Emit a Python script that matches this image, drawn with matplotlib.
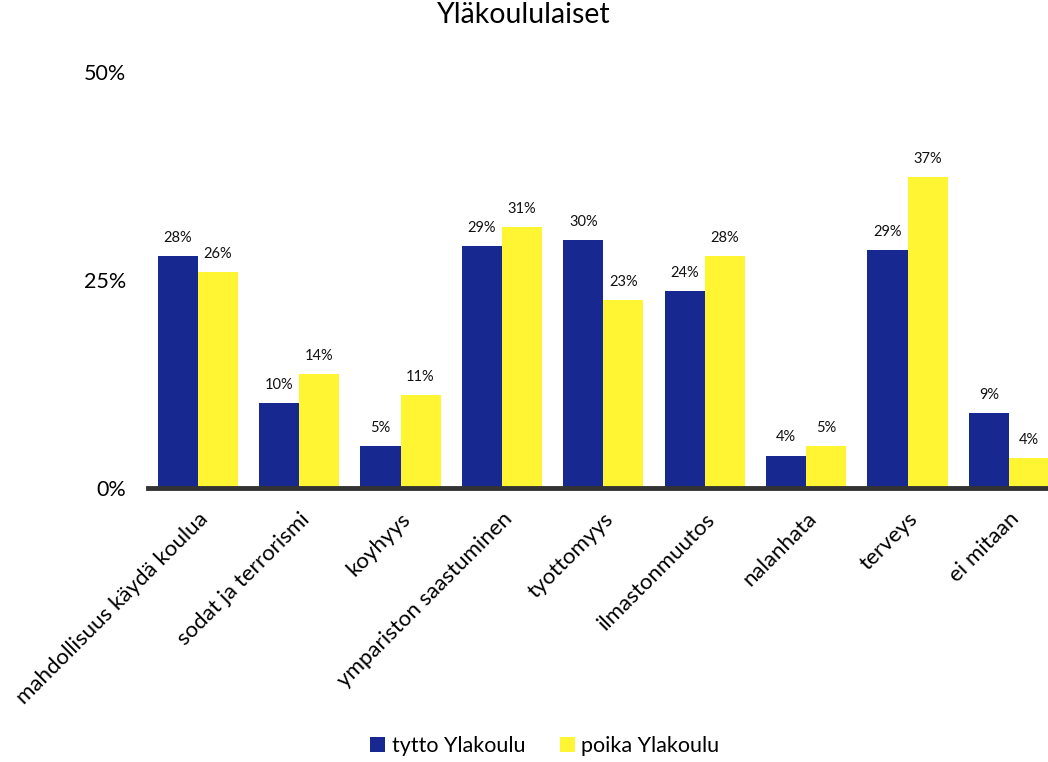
import numpy as np
import matplotlib
matplotlib.use("Agg")
import matplotlib.pyplot as plt

# =========================
# Data
# =========================
categories = [
    "mahdollisuus käydä koulua", "sodat ja terrorismi", "koyhyys",
    "ympariston saastuminen", "tyottomyys", "ilmastonmuutos",
    "nalanhata", "terveys", "ei mitaan",
]
tytto = [27.9, 10.2, 5.1, 29.1, 29.8, 23.7, 3.9, 28.6, 9.0]
poika = [26.0, 13.7, 11.2, 31.4, 22.6, 27.9, 5.1, 37.4, 3.6]
series_names = ["tytto Ylakoulu", "poika Ylakoulu"]
yticks = [0, 25, 50]

NAVY = "#182891"
YELLOW = "#FFF533"

plt.rcParams["font.family"] = ["Lato", "DejaVu Sans"]

fig = plt.figure(figsize=(10.48, 7.62), dpi=100)
ax = fig.add_axes([148 / 1048, 1 - 488 / 762, 1 - 148 / 1048, (488 - 72) / 762])

x = np.arange(len(categories))
w = 0.395
b1 = ax.bar(x - w / 2, tytto, w, color=NAVY, label=series_names[0])
b2 = ax.bar(x + w / 2, poika, w, color=YELLOW, label=series_names[1])

for bars in (b1, b2):
    for r in bars:
        h = r.get_height()
        ax.annotate(f"{h:.0f}%", (r.get_x() + r.get_width() / 2, h),
                    xytext=(0, 13), textcoords="offset points",
                    ha="center", va="center", fontsize=10.5, color="#111111")

ax.set_xlim(-0.49, 8.385)
ax.set_ylim(0, 50)
ax.set_yticks(yticks)
ax.set_yticklabels([f"{v}%" for v in yticks], fontsize=15.5)
ax.set_xticks(x)
ax.set_xticklabels(categories, rotation=45, ha="right", rotation_mode="anchor",
                   fontsize=16)
ax.tick_params(axis="both", length=0)
ax.tick_params(axis="y", pad=16)
ax.tick_params(axis="x", pad=15)

for s in ("top", "right", "left"):
    ax.spines[s].set_visible(False)
ax.spines["bottom"].set_color("#333333")
ax.spines["bottom"].set_linewidth(3.5)

fig.suptitle("Yläkoululaiset", fontsize=20.5, y=0.998)

fig.legend(loc="lower center", bbox_to_anchor=(0.52, -0.018), ncol=2,
           frameon=False, fontsize=15.5, handlelength=0.7, handleheight=0.7,
           handletextpad=0.3, columnspacing=1.6)

fig.savefig("out.png", dpi=100)
